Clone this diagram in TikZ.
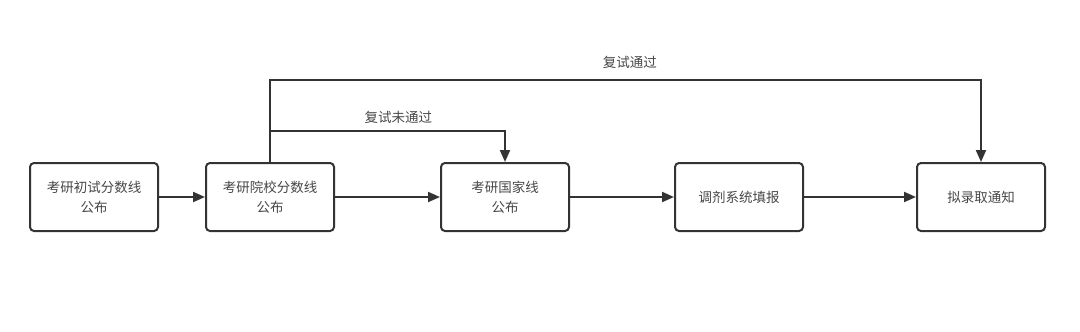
\documentclass[tikz,border=0pt]{standalone}
\usepackage{fontspec}
\setmainfont{Noto Sans CJK SC}
\usetikzlibrary{arrows.meta,positioning}
\definecolor{ink}{HTML}{333333}

\begin{document}
\begin{tikzpicture}[
   x=1pt,y=1pt,
   box/.style={draw=ink,line width=2pt,rounded corners=4pt,text=ink!90,
     font=\fontsize{13.5pt}{20pt}\selectfont,align=center,
     minimum width=128pt,minimum height=68pt,inner sep=2pt},
   link/.style={draw=ink,line width=2pt},
   lbl/.style={text=ink!90,font=\fontsize{13.5pt}{16pt}\selectfont},
   >={Triangle[length=12pt,width=10pt]}]
  \useasboundingbox (0,0) rectangle (1080,-332);
  \node[box] (chu) at (94,-197) {考研初试分数线\\公布};
  \node[box,right=46pt of chu] (yuan) {考研院校分数线\\公布};
  \node[box,right=105pt of yuan] (guo) {考研国家线\\公布};
  \node[box,right=104pt of guo] (tiao) {调剂系统填报};
  \node[box,right=112pt of tiao] (lu) {拟录取通知};
  \draw[link,->] (chu)--(yuan);
  \draw[link,->] (yuan)--(guo);
  \draw[link,->] (guo)--(tiao);
  \draw[link,->] (tiao)--(lu);
  % 复试分支
  \draw[link,->] (yuan.north) -- ++(0,82) -| node[lbl,pos=0.253,above=7pt]{复试通过} (lu.north);
  \draw[link,->] (yuan.north) -- ++(0,31) -| node[lbl,pos=0.273,above=3pt]{复试未通过} (guo.north);
\end{tikzpicture}
\end{document}
